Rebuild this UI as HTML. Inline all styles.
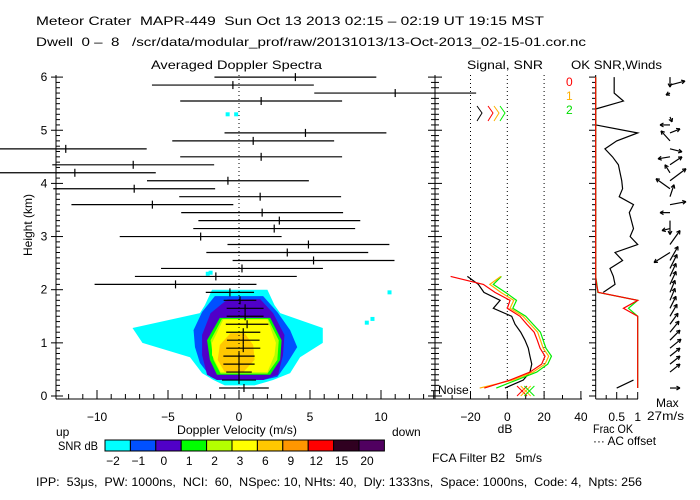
<!DOCTYPE html>
<html><head><meta charset="utf-8"><style>
html,body{margin:0;padding:0;background:#fff;}
svg{display:block;font-family:"Liberation Sans",sans-serif;}
text{font-size:12px;fill:#000;white-space:pre;}
</style></head><body>
<svg id="chart" width="700" height="500" viewBox="0 0 700 500" xmlns="http://www.w3.org/2000/svg" xml:space="preserve">
<rect width="700" height="500" fill="#fff"/>
<text x="36" y="25" font-size="13" textLength="508" lengthAdjust="spacingAndGlyphs">Meteor Crater  MAPR-449  Sun Oct 13 2013 02:15 – 02:19 UT 19:15 MST</text>
<text x="36" y="46" textLength="550" lengthAdjust="spacingAndGlyphs">Dwell  0 –  8   /scr/data/modular_prof/raw/20131013/13-Oct-2013_02-15-01.cor.nc</text>
<text x="151" y="69" textLength="171" lengthAdjust="spacingAndGlyphs">Averaged Doppler Spectra</text>
<text x="467" y="69" textLength="76" lengthAdjust="spacingAndGlyphs">Signal, SNR</text>
<text x="571" y="69" textLength="91" lengthAdjust="spacingAndGlyphs">OK SNR,Winds</text>
<text transform="translate(32,225) rotate(-90)" text-anchor="middle" font-size="11">Height (km)</text>
<text x="177" y="434" textLength="120" lengthAdjust="spacingAndGlyphs">Doppler Velocity (m/s)</text>
<text x="56" y="436">up</text>
<text x="392" y="436">down</text>
<text x="505" y="433" text-anchor="middle">dB</text>
<text x="593" y="433" textLength="40" lengthAdjust="spacingAndGlyphs">Frac OK</text>
<text x="593" y="445" textLength="63" lengthAdjust="spacingAndGlyphs">··· AC offset</text>
<text x="656" y="407">Max</text>
<text x="647" y="420" textLength="37" lengthAdjust="spacingAndGlyphs">27m/s</text>
<text x="438" y="394">Noise</text>
<text x="58" y="450" textLength="40" lengthAdjust="spacingAndGlyphs">SNR dB</text>
<text x="432" y="462" textLength="110" lengthAdjust="spacingAndGlyphs">FCA Filter B2   5m/s</text>
<text x="36" y="486" textLength="606" lengthAdjust="spacingAndGlyphs">IPP:  53μs,  PW: 1000ns,  NCI:  60,  NSpec: 10, NHts: 40,  Dly: 1333ns,  Space: 1000ns,  Code: 4,  Npts: 256</text>
<text x="566" y="86" style="fill:#ff0000">0</text>
<text x="566" y="100" style="fill:#ffb000">1</text>
<text x="566" y="114" style="fill:#00dd00">2</text>
<g id="g"></g>
</svg>
<script>
// ---------- data ----------
const gateStep = 0.15;
const specVel = [0.35,0,0,0,0,0.3,0.3,0.3,0.57,0.43,0.43,0.07,-0.64,-4.47,-1.63,0.21,5.25,3.4,4.89,-2.7,2.48,2.84,1.63,-6.1,1.49,-7.38,-0.78,-11.56,-7.45,1.56,-12.2,1.0,4.68,null,null,null,1.56,11.0,-0.43,3.97];
const specHalfWidth = [1.75,1.2,0.9,1.1,1.1,1.2,1.15,1.2,1.5,1.3,1.3,1.15,1.7,5.7,5.7,5.7,5.7,5.7,5.7,5.7,5.7,5.7,5.7,5.7,5.7,5.7,5.7,5.7,5.7,5.7,5.7,5.7,5.7,0,0,0,5.7,5.7,5.7,5.7];
const levelColors = ["#00ffff","#0050ff","#5000c8","#00ff00","#b4ff00","#ffff00","#ffc800"];
const levelH = [
 [2.0,1.71,1.56,1.28,1.0,0.73,0.43,0.30,0.20],
 [1.88,1.58,1.24,0.92,0.62,0.36,0.30],
 [1.82,1.56,1.15,0.77,0.40,0.30],
 [1.47,1.05,0.68,0.40],
 [1.45,1.05,0.68,0.42],
 [1.44,1.0,0.77,0.45],
 [1.18,0.96,0.68,0.45]];
const levelL = [
 [-1.9,-2.4,-2.75,-7.5,-6.8,-3.45,-2.6,-1.8,-1.0],
 [-1.7,-2.6,-3.2,-3.1,-2.75,-2.0,-1.55],
 [-0.8,-2.0,-2.6,-2.6,-2.25,-1.55],
 [-1.35,-2.25,-2.05,-1.55],
 [-1.2,-2.0,-1.8,-1.3],
 [-1.1,-1.9,-1.9,-1.3],
 [-0.6,-1.35,-1.5,-1.0]];
const levelR = [
 [2.0,2.5,2.9,5.9,5.9,4.3,3.6,2.4,1.1],
 [1.7,2.7,3.6,4.1,3.4,2.7,1.7],
 [1.5,2.4,3.2,3.1,2.75,1.7],
 [2.2,3.0,2.9,2.2],
 [2.05,2.8,2.7,2.0],
 [2.0,2.6,2.5,2.0],
 [0.4,1.0,1.1,0.3]];
const speckV = [-0.8,-0.2,10.6,9.4,9.0,-2.2,-2.0];
const speckH = [5.3,5.3,1.95,1.45,1.38,2.3,2.32];
const sigBlack = [-1.3,8.7,12.3,13.3,12.3,11.4,9.6,7.3,4.2,2.4,-7.6,-3.9,-12.7,-15.7,-21.7];
const snr0 = [-12.5,1.5,12.3,18.7,20.5,17.8,16.3,14.6,10.6,6.9,0,1.5,-6.7,-13,-30.8];
const snr1 = [-15,3,14,20.5,22.5,19.5,18,16.5,12.5,8.5,1.5,3.5,-3.5,-9.5,-3.5];
const snr2 = [-6,5,16,22,24,21,19.5,18,14,10,3,5,-1,-7.6,-3.2];
const noiseDb = [8,10,12];
const okBlack = [0.5,0.9,null,null,null,null,null,null,null,null,null,null,0.18,0.46,0.42,0.34,0.64,0.46,1.0,0.82,0.9,0.85,0.8,0.9,0.56,0.64,0.62,0.58,0.54,0.4,0.22,0.5,1.0,0,0,0,0.66,0.44,0.44,0.44];
const fracOk0 = [1,1,1,1,1,1,1,1,1,1,0.66,1,0.06,0.02,0,0,0,0,0,0,0,0,0,0,0,0,0,0,0,0,0,0,0,0,0,0,0,0,0,0];
const fracOk2 = [1,1,1,1,1,1,1,1,1,1,0.78,1,0.05,0.03,0,0,0,0,0,0,0,0,0,0,0,0,0,0,0,0,0,0,0,0,0,0,0,0,0,0];
const windU = [10,null,10,10,10,11,10,9,8,7,6,5,5,6,6,7,8,-16,10,null,-8,0,-10,16,4,-14,16,-5,12,-12,12,-9,10,-10,2,null,null,-4,15,0];
const windV = [0,null,8,8,8,9,10,11,11,12,12,12,12,13,13,14,14,-10,14,null,-2,-14,0,3,12,10,12,8,8,-2,-3,10,4,0,-5,null,null,-2,4,-10];
const cbLabels = ["-2","-1","0","1","2","3","6","9","12","15","20"];
const cbColors = ["#00ffff","#0050ff","#5000c8","#00ff00","#b4ff00","#ffff00","#ffc800","#ff9600","#ff0000","#300020","#500060"];
const velTicks = [-10,-5,0,5,10];
const hTicks = [0,1,2,3,4,5,6];
const dbTicks = [-20,0,20,40];

// ---------- scales ----------
const vx = v => 239 + v*14.2;
const hy = h => 396 - h*53.15;
const dbx = d => 507.3 + d*1.84;
const fx = f => 595.7 + f*42;
const NS = "http://www.w3.org/2000/svg";
const G = document.getElementById('g');
function mk(tag, attrs, parent){const e=document.createElementNS(NS,tag);for(const k in attrs)e.setAttribute(k,attrs[k]);(parent||G).appendChild(e);return e;}
function line(x1,y1,x2,y2,c,w,extra){return mk('line',Object.assign({x1,y1,x2,y2,stroke:c||'#000','stroke-width':w||1},extra||{}));}

levelH.forEach((hs,i)=>{
  const pts=[];
  hs.forEach((h,j)=>pts.push(vx(levelL[i][j])+','+hy(h)));
  for(let j=hs.length-1;j>=0;j--)pts.push(vx(levelR[i][j])+','+hy(hs[j]));
  const p=mk('polygon',{points:pts.join(' '),fill:levelColors[i]});
  
  
});
speckV.forEach((v,i)=>{
  const r=mk('rect',{x:vx(v)-2,y:hy(speckH[i])-2,width:4,height:4,fill:'#00ffff'});
  
  
});
const zl=line(vx(0),75,vx(0),399,'#000',1,{'stroke-dasharray':'1,3'});


specVel.forEach((v,i)=>{
  if(v===null)return;
  const y=hy((i+1)*gateStep), w=specHalfWidth[i];
  const g=mk('g',{});
  
  
  g.appendChild(line(vx(v-w),y,vx(v+w),y,'#000',1.2));
  g.appendChild(line(vx(v),y-4,vx(v),y+4,'#000',1.2));
});
line(56,75,56,399); line(56,399,435,399); line(435,75,435,399); line(434.5,399,582,399);
for(let h=0;h<=6.01;h+=0.1){const y=hy(h);const maj=Math.abs(h-Math.round(h))<0.01;
  line(maj?51:56,y,maj?63:60,y); line(maj?428:431,y,435,y); line(435,y,maj?442:439,y);
  line(maj?589:592,y,595.7,y);}
hTicks.forEach(h=>{const t=mk('text',{x:44,y:hy(h)+4,'text-anchor':'middle'});t.textContent=h;
  
  });
for(let v=-13;v<=13;v++){const x=vx(v);if(x<56||x>435)continue;line(x,399,x,v%5===0?390:394);}
velTicks.forEach(v=>{const t=mk('text',{x:vx(v),y:421,'text-anchor':'middle'});t.textContent=v<0?'−'+(-v):v;
  
  });
[-20,0,20].forEach(d=>line(dbx(d),75,dbx(d),399,'#000',1,{'stroke-dasharray':'1,3'}));
for(let d=-40;d<=40;d+=10)line(dbx(d),399,dbx(d),d%20===0?391:395);
dbTicks.forEach(d=>{const t=mk('text',{x:dbx(d),y:421,'text-anchor':'middle'});t.textContent=d<0?'−'+(-d):d;
  
  });
function curve(arr,scale,color,name){
  const pts=[];let segs=[];
  arr.forEach((v,i)=>{if(v===null){if(pts.length)segs.push(pts.splice(0));return;}pts.push(scale(v)+','+hy((i+1)*gateStep));});
  if(pts.length)segs.push(pts);
  segs.forEach(s=>{const p=mk('polyline',{points:s.join(' '),fill:'none',stroke:color,'stroke-width':1.2});
    
    });
}
curve(sigBlack,dbx,'#000','signal-curve');
curve(snr2,dbx,'#00ee00','snr-curve-2');
curve(snr1,dbx,'#ffb000','snr-curve-1');
curve(snr0,dbx,'#ff0000','snr-curve-0');
const ncol=['#ff0000','#ffb000','#00ee00'];
noiseDb.forEach((d,i)=>{const x=dbx(d),y=391;
  const g=mk('g',{});
  
  g.appendChild(line(x-5,y-5,x+5,y+5,ncol[i]));g.appendChild(line(x-5,y+5,x+5,y-5,ncol[i]));});
[['#000',477],['#ff0000',488],['#ffb000',494],['#00ee00',500]].forEach(c=>{
  const p=mk('polyline',{points:(c[1])+',106 '+(c[1]+5)+',113 '+(c[1])+',121',fill:'none',stroke:c[0]});
  
  });
line(595.7,75,595.7,399); line(595.7,399,638,399);
[0.25,0.5,0.75,1].forEach(f=>line(fx(f),399,fx(f),f===0.5||f===1?392:395));
[['0.5',0.5],['1',1]].forEach(a=>{const t=mk('text',{x:fx(a[1]),y:421,'text-anchor':'middle'});t.textContent=a[0];
  
  });
curve(okBlack,fx,'#000','ok-snr-curve');
curve(fracOk2,fx,'#00ee00','frac-ok-2');
curve(fracOk0,fx,'#ff0000','frac-ok-0');
windU.forEach((u,i)=>{
  if(u===null)return;const v=windV[i];
  const x0=670,y0=hy((i+1)*gateStep),x1=x0+u,y1=y0-v;
  const g=mk('g',{});
  
  g.appendChild(line(x0,y0,x1,y1,'#000',1.2));
  const L=Math.hypot(u,v)||1,ux=u/L,uy=-v/L;
  [0.5,-0.5].forEach(a=>{const hx=x1-4*(ux*Math.cos(a)-uy*Math.sin(a)),hy2=y1-4*(uy*Math.cos(a)+ux*Math.sin(a));
    g.appendChild(line(x1,y1,hx,hy2,'#000',1.2));});
});
cbColors.forEach((c,i)=>{const r=mk('rect',{x:105+i*25.4,y:440,width:25.4,height:11,fill:c,stroke:'#000','stroke-width':1});
  
  
  const t=mk('text',{x:113+i*25.4,y:465,'text-anchor':'middle'});t.textContent=cbLabels[i].replace('-','−');
  
  });
</script>
</body></html>
